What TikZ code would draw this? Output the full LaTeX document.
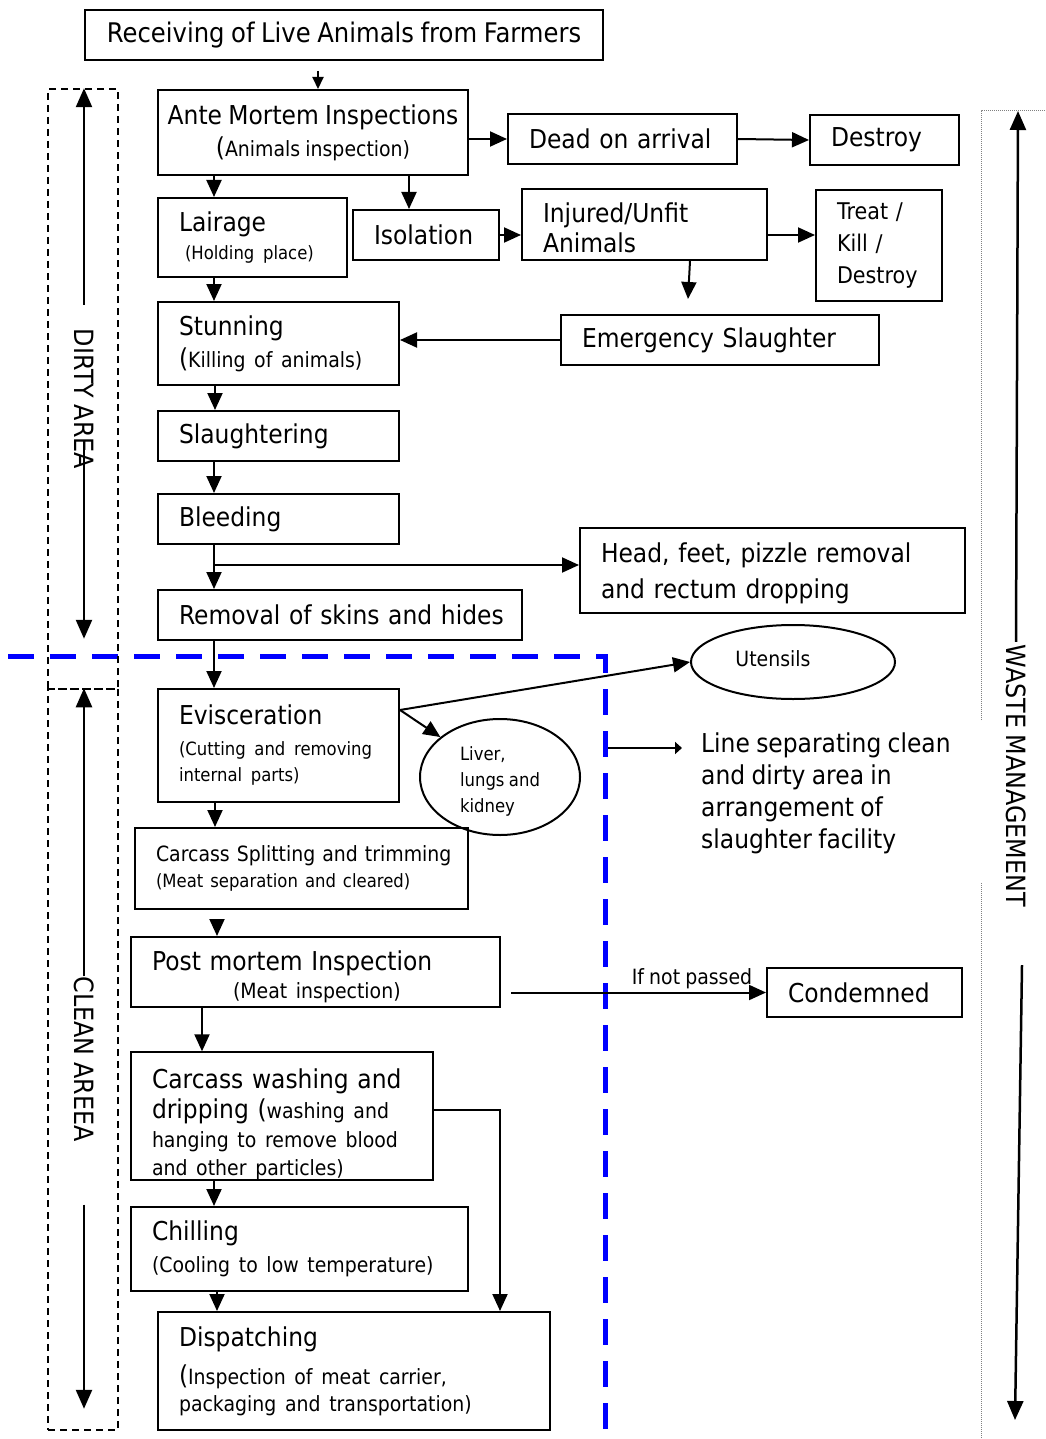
\documentclass[tikz,border=0pt]{standalone}
\usepackage{fontspec}
\setmainfont{DejaVu Sans}[FakeStretch=0.9, WordSpace=0.85]
\usetikzlibrary{arrows.meta,shapes.geometric}

\hyphenpenalty=10000
\exhyphenpenalty=10000

\newcommand{\bigfont}{\fontsize{26}{32}\selectfont}
\newcommand{\titlefont}{\fontsize{27}{32}\selectfont}
\newcommand{\midfont}{\fontsize{21}{28}\selectfont}
\newcommand{\smallfont}{\fontsize{18.3}{26}\selectfont}
\newcommand{\treatfont}{\fontsize{23}{32}\selectfont}
\newcommand{\sidefont}{\fontsize{26.5}{30}\selectfont}

\tikzset{
    box/.style={draw, line width=2pt, inner ysep=0pt, font=\bigfont},
    tbox/.style={box, inner xsep=21pt, align=left,
        execute at begin node={\rightskip=-40pt plus 1fil\relax}},
    oval/.style={draw, ellipse, line width=2pt, inner sep=0pt},
    flow/.style={line width=2pt, -{Triangle[length=17pt,width=15pt]}},
    zone/.style={draw, line width=1.5pt, dash pattern=on 7pt off 5pt, inner sep=0pt},
    sidelabel/.style={rotate=-90, inner sep=0pt, font=\sidefont},
    sidearrow/.style={line width=2.5pt, -{Triangle[length=19pt,width=16pt]}},
    divider/.style={blue, line width=5pt, dash pattern=on 26pt off 16pt},
    wastezone/.style={gray, line width=1pt, densely dotted},
}

\begin{document}
\begin{tikzpicture}[x=1pt, y=-1pt]
        \useasboundingbox (0,0) rectangle (1045,1439);

        \draw[divider] (8,656) -- (605,656) -- (605,1439);

        \node[box, minimum width=518pt, minimum height=50pt, align=center, font=\titlefont] (recv) at (344,35) {Receiving of Live Animals from Farmers};
        \node[box, minimum width=310pt, minimum height=85pt, align=center] (ante) at (313,132.5) {Ante Mortem Inspections\\({\midfont Animals inspection)}};
        \node[tbox, text width=187pt, minimum height=50pt] (dead) at (622.5,139) {Dead on arrival};
        \node[tbox, text width=107pt, minimum height=50pt] (destroy) at (884.5,140) {Destroy};
        \node[tbox, text width=147pt, minimum height=79pt] (lair) at (252.5,237.5) {Lairage\\[-4pt]\hspace*{6pt}{\smallfont(Holding place)}};
        \node[tbox, text width=104pt, minimum height=50pt] (isol) at (426,235) {Isolation};
        \node[tbox, text width=203pt, minimum height=71pt] (injured) at (644.5,224.5) {\rule{0pt}{26pt}Injured/Unfit\\[-2pt]Animals};
        \node[tbox, text width=84pt, minimum height=111pt, font=\treatfont] (treat) at (879,245.5) {Treat /\\Kill /\\Destroy};
        \node[tbox, text width=276pt, minimum height=50pt] (emerg) at (720,340) {Emergency Slaughter};
        \node[tbox, text width=199pt, minimum height=83pt] (stun) at (278.5,343.5) {Stunning\\({\midfont Killing of animals)}};
        \node[tbox, text width=199pt, minimum height=50pt] (slau) at (278.5,436) {Slaughtering};
        \node[tbox, text width=199pt, minimum height=50pt] (bleed) at (278.5,519) {Bleeding};
        \node[tbox, text width=343pt, minimum height=85pt] (head) at (772.5,570.5) {\rule{0pt}{25pt}Head, feet, pizzle removal\\[4pt]and rectum dropping};
        \node[tbox, text width=322pt, minimum height=50pt] (remov) at (340,615) {Removal of skins and hides};
        \node[tbox, text width=199pt, minimum height=113pt] (evisc) at (278.5,745.5) {Evisceration\\[-1pt]{\smallfont(Cutting and removing}\\[-6pt]{\smallfont internal parts)}};
        \node[oval, minimum width=204pt, minimum height=74pt, font=\midfont] (utens) at (793,662) {\raisebox{6pt}{Utensils}\hspace*{40pt}};
        \node[oval, minimum width=160pt, minimum height=116pt, align=left, font=\smallfont] (liver) at (500,777) {\rule{0pt}{22pt}Liver,\\lungs and\\kidney};
        \node[tbox, text width=291pt, minimum height=81pt, font=\midfont] (split) at (301.5,868.5) {Carcass Splitting and trimming\\[-2pt]{\smallfont(Meat separation and cleared)}};
        \node[tbox, text width=327pt, minimum height=70pt] (post) at (315.5,972) {\rule{0pt}{30pt}Post mortem Inspection\\[-4pt]\hspace*{81pt}{\midfont(Meat inspection)}};
        \node[tbox, text width=153pt, minimum height=49pt] (cond) at (864.5,992.5) {Condemned};
        \node[tbox, text width=260pt, minimum height=124pt] (wash) at (282,1116) {\rule{0pt}{36pt}Carcass washing and\\[-2pt]dripping ({\midfont washing and}\\[-3pt]{\midfont hanging to remove blood}\\[-4pt]{\midfont and other particles)}};
        \node[tbox, text width=295pt, minimum height=84pt] (chill) at (299.5,1249) {Chilling\\{\midfont(Cooling to low temperature)}};
        \node[tbox, text width=350pt, minimum height=118pt] (disp) at (354,1371) {Dispatching\\[6pt]({\midfont Inspection of meat carrier,}\\[-5pt]{\midfont packaging and transportation)}};
        \node[anchor=north west, inner sep=0pt, align=left, font=\bigfont] (sepnote) at (701,733) {Line separating clean\\and dirty area in\\arrangement of\\slaughter facility};

        \draw[line width=2pt, -{Triangle[length=12pt,width=11pt]}] ([xshift=-26pt,yshift=-10pt]recv.south) -- ([xshift=5pt]ante.north);
        \draw[flow] (ante.east |- dead.west) -- (dead.west);
        \draw[flow] (dead.east) -- (destroy.west);
        \draw[flow] ([xshift=-99pt]ante.south) -- ([xshift=-38.5pt]lair.north);
        \draw[flow] ([xshift=96pt]ante.south) -- ([xshift=-17pt]isol.north);
        \draw[flow] (isol.east) -- (isol.east -| injured.west);
        \draw[flow] (injured.east |- isol.east) -- (treat.west |- isol.east);
        \draw[flow] ([xshift=45.5pt]injured.south) -- ([xshift=-32pt,yshift=15pt]emerg.north);
        \draw[flow] (emerg.west) -- (emerg.west -| stun.east);
        \draw[flow] ([xshift=-38.5pt]lair.south) -- ([xshift=-64.5pt]stun.north);
        \draw[flow] ([xshift=-63.5pt]stun.south) -- ([xshift=-63.5pt]slau.north);
        \draw[flow] ([xshift=-64.5pt]slau.south) -- ([xshift=-64.5pt]bleed.north);
        \draw[flow] ([xshift=-64.5pt]bleed.south) -- ([xshift=-126pt]remov.north);
        \coordinate (fork) at ([xshift=-64.5pt,yshift=-20pt]bleed.south);
        \draw[flow] (fork) -- (fork -| head.west);
        \draw[flow] ([xshift=-126pt]remov.south) -- ([xshift=-64.5pt]evisc.north);
        \draw[flow] ([yshift=35.5pt]evisc.east) -- (utens.west);
        \draw[flow] ([yshift=35.5pt]evisc.east) -- (liver);
        \draw[flow] ([xshift=-63.5pt]evisc.south) -- ([xshift=-86.5pt]split.north);
        \draw[flow] ([xshift=-84.5pt,yshift=-9pt]split.south) -- ([xshift=-98.5pt]post.north);
        \draw[flow] ([xshift=10pt,yshift=-20.5pt]post.east) -- node[pos=0.71, above, font=\midfont, inner sep=3pt] (nopass) {If not passed} (cond.west);
        \draw[flow] ([xshift=-113.5pt]post.south) -- ([xshift=-80pt]wash.north);
        \draw[flow] ([xshift=-68pt]wash.south) -- ([xshift=-85.5pt]chill.north);
        \draw[flow] ([yshift=6pt]wash.east) -| ([xshift=146pt]disp.north);
        \draw[flow] ([xshift=-82.5pt]chill.south) -- ([xshift=-137pt]disp.north);

        \coordinate (divmark) at (608,748);
        \draw[line width=2pt, -{Triangle[length=7pt,width=12pt]}] (divmark) -- ([xshift=-19pt]divmark -| sepnote.west);

        \node[zone, minimum width=70pt, minimum height=600pt] (dirtyzone) at (83,389) {};
        \node[zone, minimum width=70pt, minimum height=741pt] (cleanzone) at (83,1059.5) {};
        \node[sidelabel] (dirty) at (84,399) {DIRTY AREA};
        \node[sidelabel] (clean) at (84,1059) {CLEAN AREEA};
        \draw[sidearrow] ([yshift=24pt]dirty.west) -- ([xshift=1pt]dirtyzone.north);
        \draw[sidearrow] ([yshift=-41pt]dirty.center) -- ([xshift=1pt,yshift=51pt]dirtyzone.south);
        \draw[sidearrow] (clean.west) -- ([xshift=1pt]cleanzone.north);
        \draw[sidearrow] ([yshift=-63pt]clean.east) -- ([xshift=1pt,yshift=22pt]cleanzone.south);

        \draw[wastezone] (981,720) |- (1045,111);
        \draw[wastezone] (981,883) -- (981,1439);
        \node[sidelabel] (waste) at (1016,776) {WASTE MANAGEMENT};
        \coordinate (wastetop) at (1018,111);
        \coordinate (wastebot) at (1015,1420);
        \draw[sidearrow] ([yshift=3pt]waste.west) -- (wastetop);
        \draw[sidearrow] ([xshift=6pt,yshift=-58pt]waste.east) -- (wastebot);
\end{tikzpicture}
\end{document}
